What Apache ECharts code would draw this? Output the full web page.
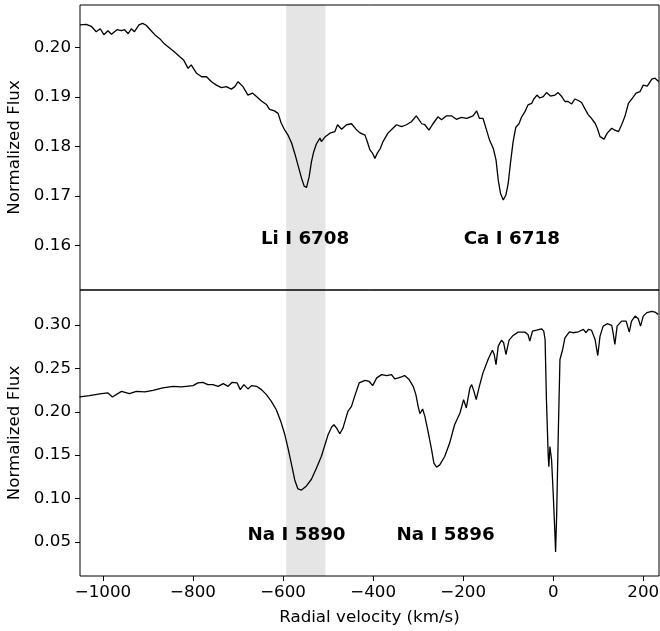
<!DOCTYPE html>
<html>
<head>
<meta charset="utf-8">
<script src="https://cdn.jsdelivr.net/npm/echarts@6/dist/echarts.min.js"></script>
<style>
html,body{margin:0;padding:0;background:#fff;}
#chart{width:660px;height:631px;}
</style>
</head>
<body>
<div id="chart"></div>
<script>
// ---- Data ----
var topVel = [-1051,-1037,-1026,-1015,-1006,-998,-989,-981,-969,-959,-952,-944,-937,-930,-920,-912,-904,-895,-885,-874,-863,-852,-841,-830,-821,-811,-804,-792,-781,-770,-759,-748,-737,-726,-715,-707,-700,-689,-678,-668,-659,-648,-637,-630,-619,-611,-604,-596,-589,-581,-574,-567,-559,-553,-548,-542,-537,-532,-526,-518,-515,-507,-496,-485,-479,-470,-459,-448,-438,-430,-418,-413,-407,-401,-396,-391,-384,-378,-367,-356,-348,-337,-326,-315,-304,-292,-285,-276,-267,-256,-248,-237,-226,-215,-204,-192,-178,-170,-164,-156,-148,-141,-133,-127,-122,-117,-111,-105,-100,-95,-89,-83,-76,-70,-63,-56,-48,-43,-36,-30,-22,-15,-6,4,11,19,26,33,41,48,56,63,70,78,85,93,98,104,113,120,130,137,145,152,159,167,176,184,193,200,209,219,226,235];
var topFlux = [0.2046,0.2047,0.2043,0.2032,0.2038,0.2026,0.2034,0.2027,0.2036,0.2034,0.2036,0.2028,0.2038,0.2032,0.2046,0.2049,0.2045,0.2036,0.2026,0.2018,0.2007,0.1999,0.1991,0.1982,0.1975,0.1958,0.1965,0.1948,0.1941,0.1941,0.1931,0.1924,0.1919,0.1921,0.1916,0.1921,0.1931,0.1921,0.1904,0.1908,0.1901,0.1892,0.1885,0.1875,0.1872,0.1867,0.1847,0.1833,0.1823,0.1807,0.1786,0.1763,0.1736,0.1720,0.1717,0.1739,0.1769,0.1789,0.1805,0.1817,0.1810,0.1819,0.1827,0.1830,0.1844,0.1835,0.1844,0.1846,0.1835,0.1828,0.1823,0.1810,0.1793,0.1786,0.1776,0.1786,0.1796,0.1810,0.1827,0.1837,0.1844,0.1840,0.1844,0.1850,0.1862,0.1846,0.1844,0.1833,0.1846,0.1860,0.1854,0.1862,0.1862,0.1855,0.1859,0.1857,0.1862,0.1872,0.1857,0.1857,0.1833,0.1812,0.1796,0.1773,0.1732,0.1705,0.1692,0.1702,0.1725,0.1766,0.1810,0.1839,0.1846,0.1860,0.1870,0.1884,0.1887,0.1896,0.1904,0.1898,0.1901,0.1909,0.1902,0.1904,0.1909,0.1901,0.1891,0.1891,0.1886,0.1896,0.1893,0.1889,0.1877,0.1864,0.1857,0.1847,0.1837,0.1820,0.1815,0.1827,0.1837,0.1833,0.1830,0.1844,0.1860,0.1887,0.1898,0.1908,0.1911,0.1924,0.1922,0.1936,0.1938,0.1931];

var botVel = [-1052,-1030,-1007,-989,-979,-959,-941,-926,-907,-889,-867,-844,-826,-815,-800,-789,-778,-767,-756,-744,-733,-722,-713,-702,-695,-687,-678,-670,-659,-648,-637,-626,-615,-605,-596,-589,-581,-574,-567,-559,-548,-537,-526,-515,-507,-500,-492,-487,-481,-474,-467,-456,-448,-441,-431,-418,-409,-401,-392,-381,-370,-359,-352,-344,-337,-330,-320,-311,-305,-300,-296,-290,-285,-278,-270,-265,-259,-252,-241,-230,-219,-207,-199,-193,-185,-181,-176,-171,-164,-156,-144,-135,-131,-127,-122,-115,-110,-105,-98,-89,-78,-63,-56,-52,-46,-37,-26,-21,-18,-15,-11,-9.6,-7.3,-3.6,0,3.8,5.3,7.6,11,15,21,26,36,44,56,67,73,78,85,93,99,104,111,120,130,133,137,142,152,162,169,174,182,189,194,200,208,219,226,233];
var botFlux = [0.2171,0.2186,0.2206,0.2218,0.2171,0.2236,0.2209,0.2236,0.2229,0.2248,0.2275,0.2294,0.2287,0.2294,0.2302,0.2333,0.2340,0.2314,0.2314,0.2294,0.2325,0.2294,0.2340,0.2333,0.2256,0.2314,0.2264,0.2302,0.2294,0.2256,0.2198,0.2120,0.2024,0.1889,0.1735,0.1581,0.1388,0.1214,0.1110,0.1098,0.1145,0.1222,0.1350,0.1484,0.1619,0.1735,0.1824,0.1851,0.1812,0.1747,0.1812,0.2005,0.2062,0.2178,0.2333,0.2363,0.2352,0.2302,0.2391,0.2429,0.2418,0.2429,0.2380,0.2391,0.2403,0.2418,0.2372,0.2294,0.2198,0.2062,0.1978,0.2032,0.1947,0.1773,0.1561,0.1407,0.1361,0.1388,0.1484,0.1639,0.1851,0.1986,0.2140,0.2044,0.2275,0.2314,0.2236,0.2140,0.2294,0.2449,0.2611,0.2711,0.2661,0.2545,0.2757,0.2826,0.2796,0.2661,0.2826,0.2881,0.2919,0.2919,0.2892,0.2815,0.2931,0.2942,0.2958,0.2931,0.2834,0.2140,0.1484,0.1368,0.1600,0.1446,0.1060,0.0597,0.0384,0.0789,0.1677,0.2603,0.2719,0.2854,0.2923,0.2912,0.2923,0.2950,0.2912,0.2950,0.2942,0.2834,0.2649,0.2873,0.2988,0.3016,0.2997,0.2912,0.2777,0.2988,0.3046,0.3046,0.2919,0.3046,0.3104,0.3074,0.2988,0.3104,0.3144,0.3159,0.3151,0.3124];

var bandRange = [-593, -506];
var xTicks = [-1000,-800,-600,-400,-200,0,200];
var topYTicks = [0.16,0.17,0.18,0.19,0.20];
var botYTicks = [0.05,0.10,0.15,0.20,0.25,0.30];
var topLabels = [[-551, 0.1612, 'Li I 6708'], [-92, 0.1612, 'Ca I 6718']];
var botLabels = [[-570, 0.0578, 'Na I 5890'], [-239, 0.0578, 'Na I 5896']];
var xMin = -1051, xMax = 235;
var topYRange = [0.1510, 0.2086];
var botYRange = [0.0106, 0.3405];

// ---- Chart ----
var FONT = 'DejaVu Sans';
var FS = 16.7;
var LFS = 18.3;
function zip(a, b) { return a.map(function (v, i) { return [v, b[i]]; }); }
function fmtX(v) { return String(v).replace('-', '\u2212'); }

var chart = echarts.init(document.getElementById('chart'), null, {renderer: 'canvas'});
var yCommon = function (gi, range, ticks) {
  return {
    type: 'value', gridIndex: gi, min: range[0], max: range[1],
    name: 'Normalized Flux', nameLocation: 'middle', nameGap: 49,
    nameTextStyle: {fontFamily: FONT, fontSize: FS, color: '#000'},
    axisLine: {show: false, onZero: false},
    axisTick: {show: true, length: 5, inside: false, customValues: ticks, lineStyle: {color: '#000', width: 1}},
    axisLabel: {show: true, customValues: ticks, margin: 9, fontFamily: FONT, fontSize: FS, color: '#000',
      formatter: function (v) { return v.toFixed(2); }},
    splitLine: {show: false}
  };
};

var bandArea = {
  silent: true,
  itemStyle: {color: '#e5e5e5'},
  data: [[{xAxis: bandRange[0]}, {xAxis: bandRange[1]}]]
};

var labelStyle = {show: true, position: 'inside', formatter: function (p) { return p.data[2]; },
  fontFamily: FONT, fontSize: LFS, fontWeight: 'bold', color: '#000', textBorderWidth: 0, opacity: 1};

var option = {
  animation: false,
  backgroundColor: '#fff',
  grid: [
    {left: 80, right: 1, top: 5, height: 285, show: true, borderColor: '#000', borderWidth: 1, backgroundColor: 'transparent', z: 10, outerBoundsMode: 'none', containLabel: false},
    {left: 80, right: 1, top: 290, height: 286, show: true, borderColor: '#000', borderWidth: 1, backgroundColor: 'transparent', z: 10, outerBoundsMode: 'none', containLabel: false}
  ],
  xAxis: [
    {type: 'value', gridIndex: 0, min: xMin, max: xMax,
      axisLine: {show: false, onZero: false}, axisTick: {show: false}, axisLabel: {show: false}, splitLine: {show: false}},
    {type: 'value', gridIndex: 1, min: xMin, max: xMax,
      name: 'Radial velocity (km/s)', nameLocation: 'middle', nameGap: 33,
      nameTextStyle: {fontFamily: FONT, fontSize: FS, color: '#000'},
      axisLine: {show: false, onZero: false},
      axisTick: {show: true, length: 5, customValues: xTicks, lineStyle: {color: '#000', width: 1}},
      axisLabel: {show: true, customValues: xTicks, margin: 8, fontFamily: FONT, fontSize: FS, color: '#000', formatter: fmtX},
      splitLine: {show: false}}
  ],
  yAxis: [
    yCommon(0, topYRange, topYTicks),
    yCommon(1, botYRange, botYTicks)
  ],
  series: [
    {type: 'line', xAxisIndex: 0, yAxisIndex: 0, data: zip(topVel, topFlux), showSymbol: false,
      lineStyle: {color: '#000', width: 1.3}, clip: true, markArea: bandArea, z: 2},
    {type: 'line', xAxisIndex: 1, yAxisIndex: 1, data: zip(botVel, botFlux), showSymbol: false,
      lineStyle: {color: '#000', width: 1.3}, clip: true, markArea: bandArea, z: 2},
    {type: 'scatter', xAxisIndex: 0, yAxisIndex: 0, data: topLabels, symbolSize: 0, silent: true, z: 5,
      itemStyle: {color: '#000', opacity: 1}, label: labelStyle},
    {type: 'scatter', xAxisIndex: 1, yAxisIndex: 1, data: botLabels, symbolSize: 0, silent: true, z: 5,
      itemStyle: {color: '#000', opacity: 1}, label: labelStyle}
  ]
};
chart.setOption(option);
</script>
</body>
</html>
